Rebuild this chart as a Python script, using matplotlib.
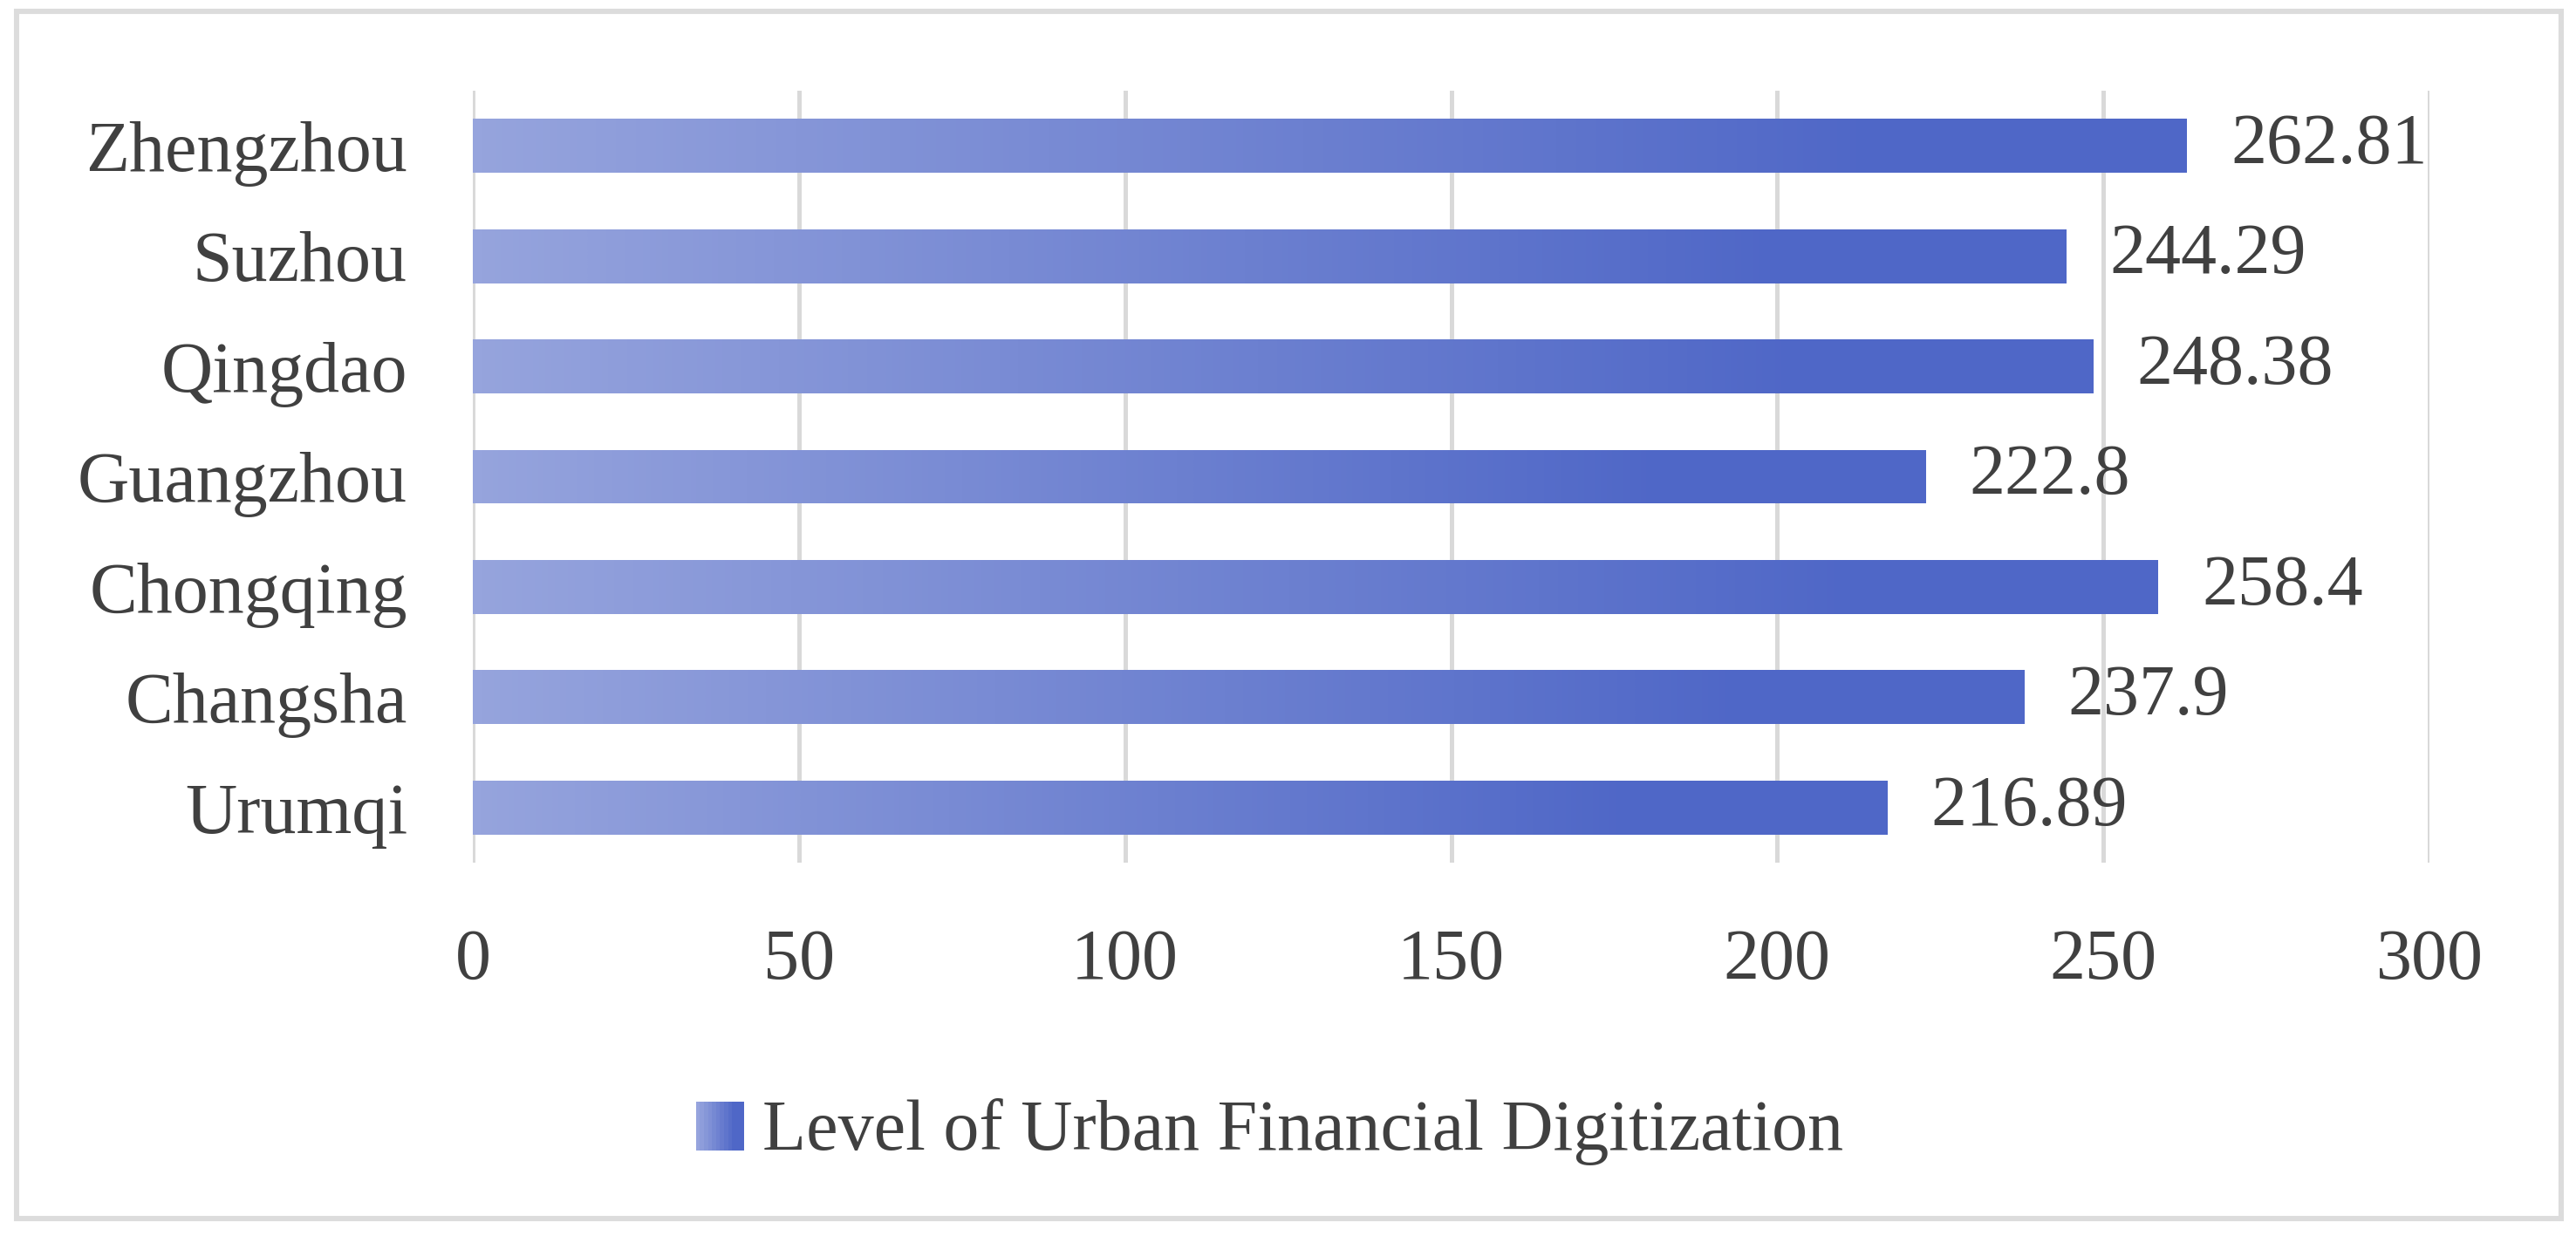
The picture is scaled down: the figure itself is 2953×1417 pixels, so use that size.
import numpy as np
import matplotlib.pyplot as plt
from matplotlib.colors import LinearSegmentedColormap
from matplotlib.patches import Rectangle
from matplotlib.legend_handler import HandlerBase

cities = ["Urumqi", "Changsha", "Chongqing", "Guangzhou", "Qingdao", "Suzhou", "Zhengzhou"]
values = [216.89, 237.9, 258.4, 222.8, 248.38, 244.29, 262.81]
labels = ["216.89", "237.9", "258.4", "222.8", "248.38", "244.29", "262.81"]
series_name = "Level of Urban Financial Digitization"

light = "#96A4DD"
dark = "#4F67C7"
txt = "#404040"
grid = "#D9D9D9"
fs = 29.5

plt.rcParams['font.family'] = ['Liberation Serif', 'DejaVu Serif']

cmap = LinearSegmentedColormap.from_list("grad", [(0, light), (0.82, dark), (1, dark)])

fig = plt.figure(figsize=(14.765, 7.085), dpi=200)
ax = fig.add_axes([542/2953, 1-989/1417, (2785-542)/2953, (989-104)/1417])

h = 0.49
y = np.arange(len(cities))
bars = ax.barh(y, values, height=h, color="none", edgecolor="none", zorder=2)
grad = np.linspace(0, 1, 256).reshape(1, -1)
for b, v, yy in zip(bars, values, y):
    im = ax.imshow(grad, cmap=cmap, aspect="auto", extent=(0, v, yy-h/2, yy+h/2),
                   zorder=2, interpolation="bicubic")
    im.set_clip_path(b)

ax.bar_label(bars, labels=labels, padding=18, fontsize=fs, color=txt)

ax.set_xlim(0, 300)
ax.set_ylim(-0.5, len(cities)-0.5)
ax.set_xticks([0, 50, 100, 150, 200, 250, 300])
ax.set_yticks(y)
ax.set_yticklabels(cities)
ax.tick_params(axis="both", length=0, labelsize=fs, labelcolor=txt)
ax.tick_params(axis="x", pad=27)
ax.tick_params(axis="y", pad=27)
ax.grid(axis="x", color=grid, linewidth=1.8, zorder=0)
ax.set_axisbelow(True)
for s in ax.spines.values():
    s.set_visible(False)


class GradHandler(HandlerBase):
    def create_artists(self, legend, orig, xd, yd, w, hh, fontsize, trans):
        arts = []
        n = 12
        s = hh
        x0 = xd + w - s
        for i in range(n):
            c = cmap(i/(n-1))
            arts.append(Rectangle((x0 + i*s/n, yd), s/n*1.05, s, facecolor=c,
                                  edgecolor="none", transform=trans))
        return arts


leg = fig.legend([bars], [series_name], handler_map={type(bars): GradHandler()},
                 loc="center", bbox_to_anchor=(0.493, 1-1297/1417), frameon=False,
                 fontsize=fs, labelcolor=txt, handlelength=0.66, handleheight=0.66,
                 handletextpad=0.25)

fig.patches.append(Rectangle((19/2953, 1-1397/1417), (2936-19)/2953, (1397-13)/1417,
                             transform=fig.transFigure, fill=False, edgecolor="#DCDCDC",
                             linewidth=2.2))

fig.savefig("out.png", dpi=200)
